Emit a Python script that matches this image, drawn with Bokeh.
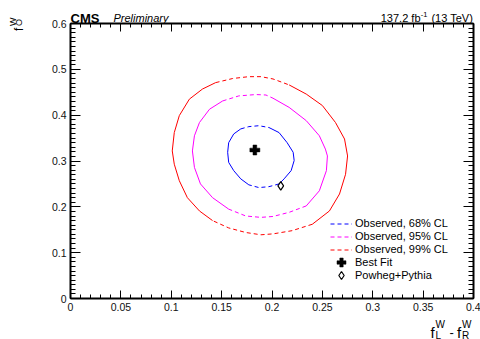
import numpy as np
from bokeh.plotting import figure
from bokeh.models import (Range1d, LinearAxis, FixedTicker, CustomJSTickFormatter,
                          Label, Legend, LegendItem)
from bokeh.embed import file_html
from bokeh.resources import INLINE

# Observed likelihood contours in the (fL - fR, f0) plane
cl68_x = [0.156, 0.157, 0.162, 0.169, 0.177, 0.187, 0.197, 0.207, 0.215, 0.221,
          0.222, 0.219, 0.212, 0.207, 0.197, 0.187, 0.177, 0.169, 0.162, 0.157]
cl68_y = [0.319, 0.340, 0.359, 0.370, 0.375, 0.377, 0.373, 0.362, 0.340, 0.319,
          0.301, 0.279, 0.261, 0.250, 0.244, 0.242, 0.248, 0.261, 0.279, 0.297]

cl95_x = [0.121, 0.123, 0.128, 0.138, 0.151, 0.167, 0.184, 0.194, 0.201, 0.217,
          0.234, 0.247, 0.253, 0.255, 0.254, 0.247, 0.234, 0.217, 0.201, 0.189,
          0.174, 0.157, 0.141, 0.129, 0.123]
cl95_y = [0.322, 0.355, 0.384, 0.413, 0.431, 0.442, 0.445, 0.444, 0.437, 0.417,
          0.388, 0.355, 0.326, 0.311, 0.279, 0.235, 0.202, 0.188, 0.179, 0.177,
          0.180, 0.195, 0.220, 0.250, 0.286]

cl99_x = [0.101, 0.103, 0.108, 0.118, 0.131, 0.144, 0.161, 0.177, 0.189, 0.201,
          0.217, 0.234, 0.250, 0.263, 0.272, 0.275, 0.273, 0.267, 0.257, 0.240,
          0.220, 0.201, 0.189, 0.174, 0.157, 0.141, 0.128, 0.116, 0.108, 0.103]
cl99_y = [0.322, 0.362, 0.399, 0.435, 0.457, 0.471, 0.480, 0.484, 0.484, 0.479,
          0.466, 0.446, 0.421, 0.384, 0.348, 0.311, 0.271, 0.228, 0.191, 0.162,
          0.148, 0.141, 0.139, 0.144, 0.154, 0.170, 0.191, 0.220, 0.257, 0.293]

best_fit_x = [0.183]
best_fit_y = [0.324]
powheg_x = [0.2087]
powheg_y = [0.2459]

x_ticks = [0.0, 0.05, 0.1, 0.15, 0.2, 0.25, 0.3, 0.35, 0.4]
x_tick_labels = ["0", "0.05", "0.1", "0.15", "0.2", "0.25", "0.3", "0.35", "0.4"]
y_ticks = [0.0, 0.1, 0.2, 0.3, 0.4, 0.5, 0.6]
y_tick_labels = ["0", "0.1", "0.2", "0.3", "0.4", "0.5", "0.6"]

X_MIN, X_MAX = 0.0, 0.4
Y_MIN, Y_MAX = 0.0, 0.6

FONT = "Liberation Sans"
W, H = 480, 339
# Page margins around the axes box (pixels)
LEFT, RIGHT, TOP, BOTTOM = 70, 7, 23, 41
BOX_W = W - LEFT - RIGHT
BOX_H = H - TOP - BOTTOM

# The plotting area spans the whole page; the axes are pinned to the box edges
# so that titles and header text can sit around it.
px_per_x = BOX_W / (X_MAX - X_MIN)
px_per_y = BOX_H / (Y_MAX - Y_MIN)
x_range = Range1d(X_MIN - LEFT / px_per_x, X_MAX + RIGHT / px_per_x)
y_range = Range1d(Y_MIN - BOTTOM / px_per_y, Y_MAX + TOP / px_per_y)


def page_to_data(cx, cy):
    return (X_MIN + (cx - LEFT) / px_per_x, Y_MIN + ((H - BOTTOM) - cy) / px_per_y)


p = figure(width=W, height=H, x_range=x_range, y_range=y_range,
           output_backend="svg", toolbar_location=None,
           x_axis_location=None, y_axis_location=None, min_border=0)
p.grid.visible = False
p.outline_line_color = None
p.background_fill_color = "white"
p.border_fill_color = "white"

minor_x = [float(v) for v in np.round(np.arange(X_MIN, X_MAX + 1e-4, 0.01), 3)]
minor_y = [float(v) for v in np.round(np.arange(Y_MIN, Y_MAX + 1e-4, 0.01), 3)]

label_code = ("const i = tick_values.findIndex(t => Math.abs(t - tick) < 1e-9);"
              "return i >= 0 ? tick_labels[i] : '';")


def make_axis(ticks, labels, minor, bounds, loc, major_len, minor_len, show_labels):
    if show_labels:
        fmt = CustomJSTickFormatter(args=dict(tick_values=ticks, tick_labels=labels),
                                    code=label_code)
    else:
        fmt = CustomJSTickFormatter(code="return '';")
    return LinearAxis(
        ticker=FixedTicker(ticks=ticks, minor_ticks=minor), formatter=fmt,
        bounds=bounds, fixed_location=loc,
        major_tick_in=major_len, major_tick_out=0,
        minor_tick_in=minor_len, minor_tick_out=0,
        axis_line_width=2, axis_line_color="black",
        major_tick_line_color="black", major_tick_line_width=1,
        minor_tick_line_color="black", minor_tick_line_width=1,
        major_label_text_font=FONT, major_label_text_font_size="10.5px",
        major_label_text_color="#111111",
        major_label_standoff=4 if show_labels else 0)


xb = (X_MIN, X_MAX)
yb = (Y_MIN, Y_MAX)
p.add_layout(make_axis(x_ticks, x_tick_labels, minor_x, xb, Y_MIN, 8, 4, True), "below")
p.add_layout(make_axis(x_ticks, x_tick_labels, minor_x, xb, Y_MAX, 8, 4, False), "above")
p.add_layout(make_axis(y_ticks, y_tick_labels, minor_y, yb, X_MIN, 10, 5, True), "left")
p.add_layout(make_axis(y_ticks, y_tick_labels, minor_y, yb, X_MAX, 10, 5, False), "right")


def split_contour(xs, ys, max_angle=25.0):
    """Split a closed contour into near-horizontal (dashed) and steep (solid) runs."""
    xs = list(xs) + [xs[0]]
    ys = list(ys) + [ys[0]]
    solid, dashed = [], []
    run_x, run_y, run_kind = [xs[0]], [ys[0]], None
    for i in range(len(xs) - 1):
        dx = (xs[i + 1] - xs[i]) * px_per_x
        dy = (ys[i + 1] - ys[i]) * px_per_y
        ang = np.degrees(np.arctan2(abs(dy), abs(dx)))
        kind = "dash" if ang < max_angle else "solid"
        if run_kind is not None and kind != run_kind:
            (dashed if run_kind == "dash" else solid).append((run_x, run_y))
            run_x, run_y = [xs[i]], [ys[i]]
        run_kind = kind
        run_x.append(xs[i + 1])
        run_y.append(ys[i + 1])
    (dashed if run_kind == "dash" else solid).append((run_x, run_y))
    return solid, dashed


contours = [
    ("Observed, 68% CL", cl68_x, cl68_y, "#0000ff"),
    ("Observed, 95% CL", cl95_x, cl95_y, "#ff00ff"),
    ("Observed, 99% CL", cl99_x, cl99_y, "#ff0000"),
]

items = []
for name, cx, cy, color in contours:
    solid, dashed = split_contour(cx, cy)
    p.multi_line(xs=[s[0] for s in solid], ys=[s[1] for s in solid],
                 line_color=color, line_width=1)
    r = p.multi_line(xs=[d[0] for d in dashed], ys=[d[1] for d in dashed],
                     line_color=color, line_width=1, line_dash="4 3")
    items.append(LegendItem(label=name, renderers=[r]))

plus_style = dict(marker="plus", fill_color="black", line_color="black", line_width=0.5)
diamond_style = dict(marker="diamond", fill_color="white", fill_alpha=0,
                     line_color="black", line_width=1.2)

p.scatter(best_fit_x, best_fit_y, size=10, **plus_style)
p.scatter(powheg_x, powheg_y, size=8.5, **diamond_style)

# Legend: 13 px rows starting at page y = 216.5, glyph column at x = 330..352
LEG_X, LEG_TOP, ROW = 330, 216.5, 13
# marker entries get full-size keys drawn beside the legend text
bf_proxy = p.scatter(best_fit_x, best_fit_y, size=0, alpha=0, marker="plus")
pw_proxy = p.scatter(powheg_x, powheg_y, size=0, alpha=0, marker="diamond")
items.append(LegendItem(label="Best Fit", renderers=[bf_proxy]))
items.append(LegendItem(label="Powheg+Pythia", renderers=[pw_proxy]))

kx, ky = page_to_data(LEG_X + 11, LEG_TOP + ROW * 3.5)
p.scatter([kx], [ky], size=9, **plus_style)
kx, ky = page_to_data(LEG_X + 11, LEG_TOP + ROW * 4.5)
p.scatter([kx], [ky], size=8, **diamond_style)

legend = Legend(items=items, location=(LEG_X, H - (LEG_TOP + ROW * len(items))),
                orientation="vertical",
                border_line_color=None, background_fill_alpha=0,
                padding=0, margin=0, spacing=0,
                glyph_width=22, glyph_height=ROW, label_height=ROW,
                label_standoff=3, label_text_font=FONT,
                label_text_font_size="11px", label_text_color="black")
p.add_layout(legend)


def add_text(text, cx, cy, size, align="left", style="normal", angle=0.0):
    # cx, cy: pixels from the top-left corner of the page
    p.add_layout(Label(x=cx, y=H - cy, x_units="screen", y_units="screen",
                       text=text, text_font=FONT, text_font_size=size,
                       text_font_style=style, text_align=align,
                       text_baseline="alphabetic", angle=angle,
                       text_color="black"))


# Header
add_text("CMS", 70, 17.5, "13px", style="bold")
add_text("Preliminary", 113, 17.5, "11px", style="italic")
add_text("(13 TeV)", 472.5, 17.5, "11px", align="right")
add_text("-1", 427, 13.5, "7.5px", align="right")
add_text("137.2 fb", 420, 17.5, "11px", align="right")

# x-axis title: f_L^W - f_R^W
add_text("f", 430, 331.5, "15px")
add_text("W", 435, 323.5, "10px")
add_text("L", 435, 334.5, "10px")
add_text("-", 449, 331.5, "13px")
add_text("f", 456.5, 331.5, "15px")
add_text("W", 461.5, 323.5, "10px")
add_text("R", 461.5, 334.5, "10px")

# y-axis title: f_O^W, reading upwards
add_text("f", 18.3, 30.5, "12px", angle=np.pi / 2)
add_text("W", 12.7, 25.5, "9px", angle=np.pi / 2)
add_text("O", 18.8, 25.5, "9px", angle=np.pi / 2)

open("out.html", "w").write(file_html(p, INLINE))
